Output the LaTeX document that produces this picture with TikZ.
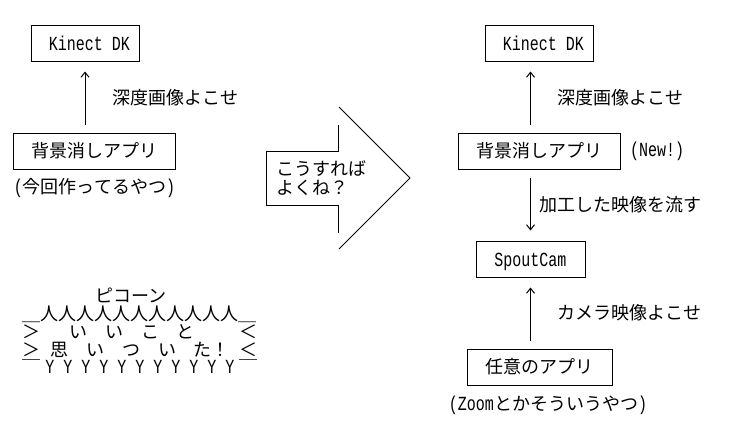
\documentclass[tikz,border=0pt]{standalone}
\usepackage{fontspec}
\usetikzlibrary{positioning}
\usetikzlibrary{arrows.meta}
\newfontfamily\jpfont{Noto Sans CJK JP}
\newfontfamily\monofont[FakeStretch=0.75]{Liberation Mono}
\newcommand{\jp}{\jpfont\fontsize{18}{19}\selectfont}
\newcommand{\hw}{\monofont\fontsize{20}{19}\selectfont}
\tikzset{
    appbox/.style={draw, line width=1pt, minimum height=36pt, inner sep=0pt, font=\jp},
    label/.style={inner sep=0pt, font=\jp},
    flow/.style={-{Straight Barb[length=5pt, width=8pt]}, line width=1pt, shorten >=10pt, shorten <=8pt}
}

\begin{document}
\begin{tikzpicture}[x=1pt, y=-1pt]
        \useasboundingbox (0,0) rectangle (740,439);

        % Left side
        \node[appbox, minimum width=108pt] (kinectL) at (85,43) {\hw\ Kinect DK};
        \node[appbox, minimum width=162pt] (bgL) at (94,151) {背景消しアプリ};
        \node[label, anchor=west] (depthL) at (112,98) {深度画像よこせ};
        \node[label] (nowL) at (94.5,188) {{\hw(}今回作ってるやつ{\hw)}};
        \draw[flow] (bgL.north -| kinectL.south) -- (kinectL.south);

        % Speech burst
        \node[label] (pikon) at (131,295) {ピコーン};
        \node[label] (burstT) at (140,314) {＿人人人人人人人人人人人＿};
        \node[label] (burstA) at (132,332) {い　い　こ　と};
        \node[label] (burstB) at (140,350) {思　い　つ　い　た！};
        \foreach \y/\n in {332/A, 350/B} {
            \node[label] (gt\n) at (32,\y) {＞};
            \node[label] (lt\n) at (248,\y) {＜};
        }
        \node[label] (burstBL) at (32,368) {￣};
        \node[label] (burstBR) at (248,368) {￣};
        \node[label, font=\hw] (burstY) at (140,367) {Y Y Y Y Y Y Y Y Y Y Y};

        % Big arrow
        \draw[line width=1pt] (338,125) -- (338,151) -- (266,151) -- (266,205) -- (338,205) -- (338,233);
        \draw[line width=0.8pt] (339,107) -- (410,178) -- (339,249);
        \node[label, anchor=west, align=left] (idea) at (276,178) {こうすれば\\よくね？};

        % Right side
        \node[appbox, minimum width=108pt] (kinectR) at (539,43) {\hw\ Kinect DK};
        \node[appbox, minimum width=162pt] (bgR) at (539,151) {背景消しアプリ};
        \node[label, font=\hw, anchor=west] (newR) at (630,151) {(New!)};
        \node[appbox, minimum width=109pt, font=\hw, text height=18pt, text depth=4pt] (spout) at (530.5,259) {SpoutCam};
        \node[appbox, minimum width=145pt] (anyapp) at (539.5,367) {任意のアプリ};
        \node[label, anchor=west] (depthR) at (557,98) {深度画像よこせ};
        \node[label, anchor=west] (feed) at (539,205) {加工した映像を流す};
        \node[label, anchor=west] (camera) at (557,313) {カメラ映像よこせ};
        \node[label] (zoomapp) at (548,405) {{\hw(Zoom}とかそういうやつ{\hw)}};
        \draw[flow] (bgR.north -| spout.north) -- (kinectR.south -| spout.north);
        \draw[flow] (bgR.south -| spout.north) -- (spout.north);
        \draw[flow] (anyapp.north -| spout.south) -- (spout.south);

\end{tikzpicture}
\end{document}
